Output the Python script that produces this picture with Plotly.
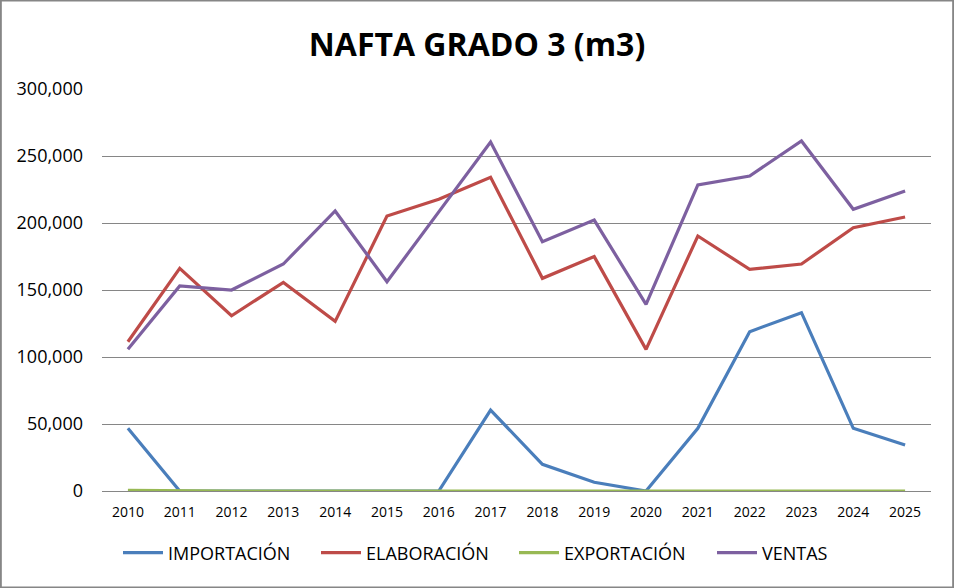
import plotly.graph_objects as go

years = [str(y) for y in range(2010, 2026)]
importacion = [46800, 0, 0, 0, 0, 0, 0, 60400, 19900, 6500, 0, 46800, 118900, 133100, 46800, 34300]
elaboracion = [111400, 166200, 130800, 155700, 126600, 205200, 217700, 234100, 158700, 174900, 105700, 190300, 165400, 169400, 196500, 204500]
exportacion = [400, 0, 0, 0, 0, 0, 0, 0, 0, 0, 0, 0, 0, 0, 0, 0]
ventas = [105700, 153000, 150000, 169400, 209000, 156200, 208300, 260400, 186100, 202200, 139300, 228400, 235100, 261200, 210200, 223900]

series = [
    ("IMPORTACIÓN", importacion, "#4A7EBB"),
    ("ELABORACIÓN", elaboracion, "#BE4B48"),
    ("EXPORTACIÓN", exportacion, "#98B954"),
    ("VENTAS", ventas, "#7D60A0"),
]

fig = go.Figure()
for name, vals, col in series:
    fig.add_trace(go.Scatter(x=years, y=vals, name=name, mode="lines",
                             line=dict(color=col, width=3.2)))

L, R, T, B = 102, 23, 89, 97
W, H = 954, 588
pw, ph = W - L - R, H - T - B

fig.update_layout(
    width=W, height=H,
    margin=dict(l=L, r=R, t=T, b=B),
    paper_bgcolor="white", plot_bgcolor="white",
    font=dict(family="Open Sans, sans-serif", color="black"),
    title=dict(text="<b>NAFTA GRADO 3 (m3)</b>", x=0.5, xanchor="center",
               y=1 - 45 / H, yanchor="middle",
               font=dict(family="Open Sans, sans-serif", size=32, color="black")),
    xaxis=dict(type="category", range=[-0.5, 15.5], showgrid=False,
               showline=True, linecolor="#868686", linewidth=1,
               ticks="", ticklabelstandoff=8, tickfont=dict(size=14)),
    yaxis=dict(range=[0, 300000], dtick=50000, tickformat=",",
               showgrid=True, gridcolor="#868686", gridwidth=1,
               zeroline=False, showline=False, ticks="", ticklen=0,
               ticklabelstandoff=18,
               tickfont=dict(size=18)),
    legend=dict(orientation="h", x=(118 - L) / pw, xanchor="left",
                y=-(553 - 491) / ph, yanchor="middle",
                font=dict(size=18), itemwidth=40, tracegroupgap=0,
                entrywidth=143, entrywidthmode="pixels"),
    shapes=[dict(type="rect", xref="paper", yref="paper",
                 x0=-L / pw + 0.001, x1=1 + R / pw - 0.001,
                 y0=-B / ph + 0.001, y1=1 + T / ph - 0.001,
                 line=dict(color="#868686", width=2), fillcolor="rgba(0,0,0,0)",
                 layer="below")],
)

fig.write_html("out.html", config={"displayModeBar": False},
               post_script="document.body.style.margin='0';document.body.style.overflow='hidden';")
